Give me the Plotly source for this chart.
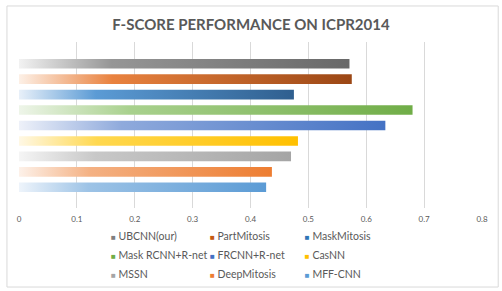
import plotly.graph_objects as go

# ---- data ----
methods = ["UBCNN(our)", "PartMitosis", "MaskMitosis",
           "Mask RCNN+R-net", "FRCNN+R-net", "CasNN",
           "MSSN", "DeepMitosis", "MFF-CNN"]
fscores = [0.571, 0.575, 0.475, 0.680, 0.633, 0.482, 0.470, 0.437, 0.427]
tick_vals = [0, 0.1, 0.2, 0.3, 0.4, 0.5, 0.6, 0.7, 0.8]
tick_text = ["0", "0.1", "0.2", "0.3", "0.4", "0.5", "0.6", "0.7", "0.8"]

# ---- styles ----
pale = ["#f2f2f2", "#fdf0e6", "#e8f0f9", "#eef5e9", "#eef1f9",
        "#fff8e5", "#f5f5f5", "#fdf1e9", "#eef4fb"]
mid = ["#969696", "#e9823f", "#5b9bd5", "#a9d18e", "#8faadc",
       "#ffd84f", "#c8c8c8", "#f4b183", "#9dc3e6"]
dark = ["#686868", "#9b4715", "#2f5f8f", "#70ad47", "#4472c4",
        "#ffc000", "#a5a5a5", "#ed7d31", "#5b9bd5"]
legend_colors = ["#7f7f7f", "#c55a11", "#2e75b6", "#70ad47", "#4472c4",
                 "#ffc000", "#a5a5a5", "#ed7d31", "#5b9bd5"]
half = 0.31
FONT = "Lato"
GREY = "#595959"

fig = go.Figure()

for i, (name, v) in enumerate(zip(methods, fscores)):
    fig.add_trace(go.Scatter(
        x=[0, v, v, 0, 0],
        y=[i - half, i - half, i + half, i + half, i - half],
        mode="lines", line=dict(width=0), fill="toself",
        fillgradient=dict(type="horizontal",
                          colorscale=[[0, pale[i]], [0.28, mid[i]], [1, dark[i]]]),
        name=name, showlegend=False, hoverinfo="x+name",
    ))

# legend: three columns (Excel-style 3x3 grid), square key right beside the text
legend_ids = ["legend", "legend2", "legend3"]
for i, name in enumerate(methods):
    label = (f'<span style="color:{legend_colors[i]};font-size:8px">\u25A0</span> '
             f'{name}')
    fig.add_trace(go.Scatter(
        x=[None], y=[None], mode="markers", name=label,
        marker=dict(symbol="square", size=1, color="rgba(0,0,0,0)"),
        legend=legend_ids[i % 3],
    ))

col_x = [0.1123, 0.326, 0.531]
leg_common = dict(orientation="v", xanchor="left", xref="paper",
                  y=0.238, yanchor="top", yref="container",
                  itemwidth=30, font=dict(family=FONT, size=10.5, color=GREY),
                  bgcolor="rgba(0,0,0,0)", tracegroupgap=0)

fig.update_layout(
    width=502, height=291,
    margin=dict(l=19, r=20, t=42, b=83, autoexpand=False),
    paper_bgcolor="white", plot_bgcolor="white",
    title=dict(text="<b>F-SCORE PERFORMANCE ON ICPR2014</b>",
               x=0.5, xanchor="center", y=0.915, yanchor="middle",
               font=dict(family=FONT, size=15, color=GREY)),
    xaxis=dict(range=[0, 0.8], tickvals=tick_vals, ticktext=tick_text,
               showgrid=True, gridcolor="#d9d9d9", gridwidth=1,
               zeroline=False, showline=False, ticks="", automargin=False,
               ticklabelstandoff=5,
               tickfont=dict(family=FONT, size=8, color=GREY)),
    yaxis=dict(range=[9.34, -1.405], showgrid=False, zeroline=False,
               showticklabels=False, showline=False, ticks="", automargin=False),
    legend=dict(x=col_x[0], **leg_common),
    legend2=dict(x=col_x[1], **leg_common),
    legend3=dict(x=col_x[2], **leg_common),
    shapes=[dict(type="rect", xref="paper", yref="paper",
                 x0=-0.026, x1=1.035, y0=-0.476, y1=1.217,
                 line=dict(color="#d9d9d9", width=1), fillcolor="rgba(0,0,0,0)",
                 layer="below")],
)

fig.write_html("out.html", config={"displayModeBar": False},
               post_script="document.body.style.margin='0px';")
